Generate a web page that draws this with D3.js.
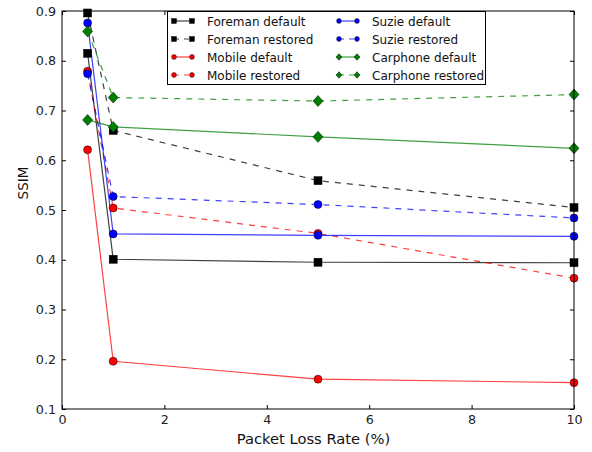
<!DOCTYPE html>
<html><head><meta charset="utf-8">
<script src="https://cdn.jsdelivr.net/npm/d3@7"></script>
<style>body{margin:0;background:#fff}svg{display:block}text{font-family:"DejaVu Sans",sans-serif}</style>
</head><body><svg id="c" width="592" height="452"></svg>
<script>
const lossRates = [0.5, 1, 5, 10];
const foremanDefault  = [0.815, 0.401, 0.395, 0.394];
const foremanRestored = [0.896, 0.660, 0.559, 0.505];
const mobileDefault   = [0.621, 0.196, 0.160, 0.153];
const mobileRestored  = [0.779, 0.504, 0.453, 0.363];
const suzieDefault    = [0.876, 0.452, 0.449, 0.447];
const suzieRestored   = [0.774, 0.527, 0.511, 0.484];
const carphoneDefault = [0.681, 0.667, 0.647, 0.624];
const carphoneRestored= [0.859, 0.726, 0.719, 0.732];
const xTicks = [0, 2, 4, 6, 8, 10];
const yTicks = [0.1, 0.2, 0.3, 0.4, 0.5, 0.6, 0.7, 0.8, 0.9];

const series = [
  {name:"Foreman default", values:foremanDefault, color:"#000000", dash:false, marker:"square"},
  {name:"Foreman restored", values:foremanRestored, color:"#000000", dash:true, marker:"square"},
  {name:"Mobile default", values:mobileDefault, color:"#ff0000", dash:false, marker:"circle"},
  {name:"Mobile restored", values:mobileRestored, color:"#ff0000", dash:true, marker:"circle"},
  {name:"Suzie default", values:suzieDefault, color:"#0000ff", dash:false, marker:"circle"},
  {name:"Suzie restored", values:suzieRestored, color:"#0000ff", dash:true, marker:"circle"},
  {name:"Carphone default", values:carphoneDefault, color:"#008000", dash:false, marker:"diamond"},
  {name:"Carphone restored", values:carphoneRestored, color:"#008000", dash:true, marker:"diamond"}
];

const svg = d3.select("#c");
const L=62, R=574, T=11, B=409;
const x = d3.scaleLinear().domain([0,10]).range([L,R]);
const y = d3.scaleLinear().domain([0.1,0.9]).range([B,T]);

const plot = svg.append("g");
svg.append("clipPath").attr("id","clp").append("rect").attr("x",L).attr("y",T).attr("width",R-L).attr("height",B-T);

function drawMarker(g, type, cx, cy, color, s){
  s = s||1;
  if(type==="square") g.append("rect").attr("x",cx-4*s).attr("y",cy-4*s).attr("width",8*s).attr("height",8*s).attr("fill",color).attr("stroke","#000").attr("stroke-width",0.5);
  else if(type==="circle") g.append("circle").attr("cx",cx).attr("cy",cy).attr("r",4*s).attr("fill",color).attr("stroke","#000").attr("stroke-width",0.5);
  else g.append("path").attr("d",`M${cx},${cy-5.5*s}L${cx+5*s},${cy}L${cx},${cy+5.5*s}L${cx-5*s},${cy}Z`).attr("fill",color).attr("stroke","#000").attr("stroke-width",0.5);
}

const line = d3.line().x((d,i)=>x(lossRates[i])).y(d=>y(d));
const gl = plot.append("g").attr("clip-path","url(#clp)");
series.forEach(s=>{
  gl.append("path").attr("d",line(s.values)).attr("fill","none").attr("stroke",s.color)
    .attr("stroke-opacity",0.75).attr("stroke-width",1.2).attr("stroke-dasharray",s.dash?"6,6":null);
});
const gm = plot.append("g");
series.forEach(s=>{
  s.values.forEach((v,i)=>drawMarker(gm, s.marker, x(lossRates[i]), y(v), s.color));
});

// frame and ticks
const ax = svg.append("g");
ax.append("rect").attr("x",L).attr("y",T).attr("width",R-L).attr("height",B-T).attr("fill","none").attr("stroke","#000").attr("stroke-width",1);
const xb = ax.append("g").attr("transform",`translate(0,${B})`).call(d3.axisBottom(x).tickValues(xTicks).tickSize(-4).tickPadding(6).tickFormat(d3.format("d")));
const xt = ax.append("g").attr("transform",`translate(0,${T})`).call(d3.axisTop(x).tickValues(xTicks).tickSize(-4).tickFormat(""));
const yl = ax.append("g").attr("transform",`translate(${L},0)`).call(d3.axisLeft(y).tickValues(yTicks).tickSize(-4).tickPadding(6).tickFormat(d3.format(".1f")));
const yr = ax.append("g").attr("transform",`translate(${R},0)`).call(d3.axisRight(y).tickValues(yTicks).tickSize(-4).tickFormat(""));
[xb,xt,yl,yr].forEach(g=>{g.select(".domain").remove();g.selectAll("text").attr("font-family","DejaVu Sans").attr("font-size",12.7).attr("fill","#222");g.selectAll("line").attr("stroke","#000");});

svg.append("text").attr("x",313.5).attr("y",444).attr("text-anchor","middle").attr("font-size",14.7).attr("fill","#111").text("Packet Loss Rate (%)");
svg.append("text").attr("transform",`translate(28,183) rotate(-90)`).attr("text-anchor","middle").attr("font-size",13.5).attr("fill","#111").text("SSIM");

// legend
const lg = svg.append("g");
lg.append("rect").attr("x",167.5).attr("y",11.5).attr("width",318).attr("height",73).attr("fill","#fff").attr("stroke","#000").attr("stroke-width",1);
series.forEach((s,i)=>{
  const col = Math.floor(i/4), row = i%4;
  const hx = col===0?174:339, ty = 21+row*18;
  lg.append("line").attr("x1",hx).attr("x2",hx+18).attr("y1",ty).attr("y2",ty).attr("stroke",s.color).attr("stroke-opacity",0.75).attr("stroke-width",1.2).attr("stroke-dasharray",s.dash?"5,5":null);
  drawMarker(lg, s.marker, hx, ty, s.color, 0.6);
  drawMarker(lg, s.marker, hx+18, ty, s.color, 0.6);
  lg.append("text").attr("x",hx+33).attr("y",ty+4.5).attr("font-size",12).attr("fill","#111").text(s.name);
});
</script></body></html>
